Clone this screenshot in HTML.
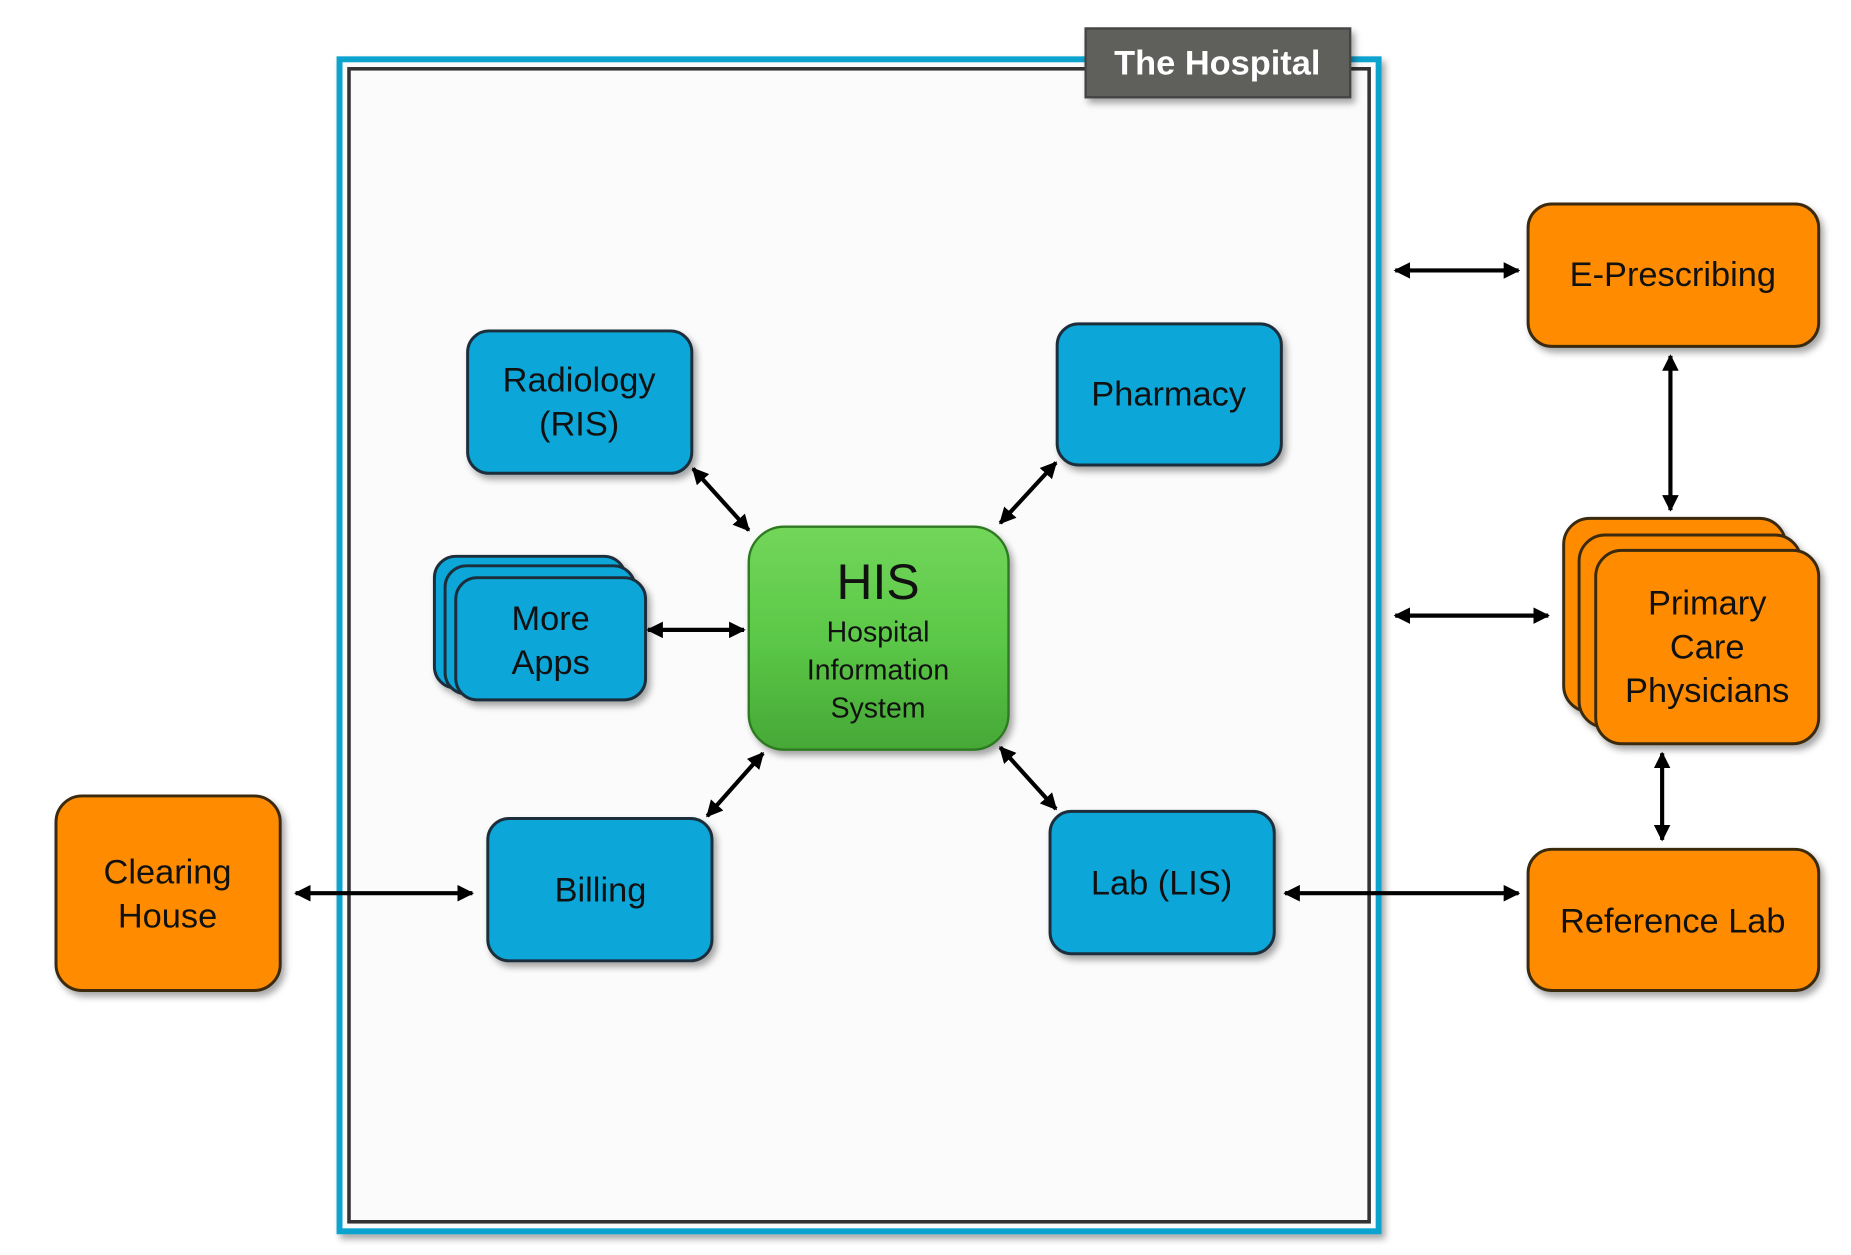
<!DOCTYPE html>
<html><head><meta charset="utf-8"><style>
html,body{margin:0;padding:0;background:#fff;}
svg{display:block;}
text{font-family:"Liberation Sans",sans-serif;}
</style></head><body>
<svg width="1851" height="1255" viewBox="0 0 1560 1058" xmlns="http://www.w3.org/2000/svg">
<defs>
<marker id="a" viewBox="0 0 10 10" refX="9" refY="5" markerWidth="4" markerHeight="4" orient="auto-start-reverse"><path d="M0,0 L10,5 L0,10 z" fill="#000"/></marker>
<filter id="sh" x="-10%" y="-10%" width="130%" height="130%"><feDropShadow dx="3" dy="4" stdDeviation="3" flood-color="#000" flood-opacity="0.35"/></filter>
<linearGradient id="g" x1="0" y1="0" x2="0" y2="1"><stop offset="0" stop-color="#72d65a"/><stop offset="0.5" stop-color="#5cc848"/><stop offset="1" stop-color="#46a836"/></linearGradient>
</defs>
<rect x="0" y="0" width="1560" height="1058" fill="#fff"/>
<rect x="286" y="50" width="876" height="988" fill="#fbfbfb" stroke="#0aa3cf" stroke-width="5" filter="url(#sh)"/>
<rect x="294" y="58" width="860" height="972" fill="none" stroke="#333" stroke-width="3"/>
<rect x="915" y="24" width="223" height="58" fill="#5f5f5c" stroke="#444" stroke-width="2" filter="url(#sh)"/>
<text x="1026" y="63" font-size="29" font-weight="bold" fill="#fff" text-anchor="middle">The Hospital</text>
<g stroke="#1c2f3a" stroke-width="2.5" fill="#0aa6d8" filter="url(#sh)">
<rect x="394" y="279" width="189" height="120" rx="18"/>
<rect x="891" y="273" width="189" height="119" rx="18"/>
<rect x="366" y="469" width="161" height="111" rx="18"/>
<rect x="375" y="477" width="160" height="108" rx="18"/>
<rect x="384" y="487" width="160" height="103" rx="18"/>
<rect x="411" y="690" width="189" height="120" rx="18"/>
<rect x="885" y="684" width="189" height="120" rx="18"/>
</g>
<g stroke="#3a2a10" stroke-width="2.5" fill="#ff8c00" filter="url(#sh)">
<rect x="47" y="671" width="189" height="164" rx="22"/>
<rect x="1288" y="172" width="245" height="120" rx="20"/>
<rect x="1318" y="437" width="187" height="163" rx="22"/>
<rect x="1331" y="451" width="187" height="162" rx="22"/>
<rect x="1345" y="464" width="188" height="163" rx="22"/>
<rect x="1288" y="716" width="245" height="119" rx="20"/>
</g>
<rect x="631" y="444" width="219" height="188" rx="30" fill="url(#g)" stroke="#2f7a22" stroke-width="2" filter="url(#sh)"/>
<g font-size="29" fill="#111" text-anchor="middle">
<text x="488" y="330">Radiology</text><text x="488" y="367">(RIS)</text>
<text x="985" y="342">Pharmacy</text>
<text x="464" y="531">More</text><text x="464" y="568">Apps</text>
<text x="506" y="760">Billing</text>
<text x="979" y="754">Lab (LIS)</text>
<text x="141" y="745">Clearing</text><text x="141" y="782">House</text>
<text x="1410" y="241">E-Prescribing</text>
<text x="1439" y="518">Primary</text><text x="1439" y="555">Care</text><text x="1439" y="592">Physicians</text>
<text x="1410" y="786">Reference Lab</text>
<text x="740" y="505" font-size="42">HIS</text>
<text x="740" y="541" font-size="24">Hospital</text>
<text x="740" y="573" font-size="24">Information</text>
<text x="740" y="605" font-size="24">System</text>
</g>
<g stroke="#000" stroke-width="3.5" marker-start="url(#a)" marker-end="url(#a)">
<line x1="1176" y1="228" x2="1280" y2="228"/>
<line x1="1408" y1="300" x2="1408" y2="430"/>
<line x1="1176" y1="519" x2="1305" y2="519"/>
<line x1="1401" y1="635" x2="1401" y2="708"/>
<line x1="1083" y1="753" x2="1280" y2="753"/>
<line x1="249" y1="753" x2="398" y2="753"/>
<line x1="546" y1="531" x2="627" y2="531"/>
<line x1="584" y1="395" x2="631" y2="447"/>
<line x1="890" y1="390" x2="843" y2="441"/>
<line x1="643" y1="635" x2="596" y2="688"/>
<line x1="843" y1="630" x2="890" y2="682"/>
</g>
</svg>
</body></html>
